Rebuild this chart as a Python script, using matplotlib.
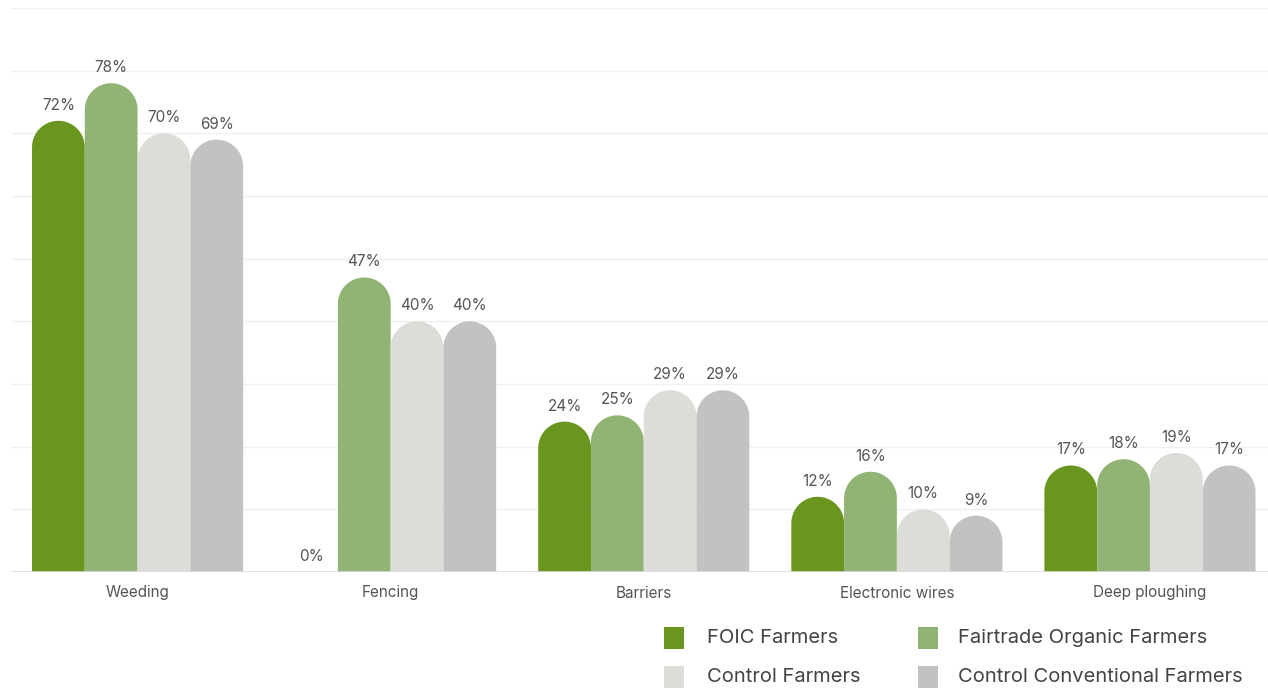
import numpy as np
import matplotlib
matplotlib.use("Agg")
import matplotlib.pyplot as plt
from matplotlib.patches import Polygon, Rectangle

plt.rcParams['font.family'] = ['Inter', 'DejaVu Sans']

categories = ["Weeding", "Fencing", "Barriers", "Electronic wires", "Deep ploughing"]
series_names = ["FOIC Farmers", "Fairtrade Organic Farmers",
                "Control Farmers", "Control Conventional Farmers"]
foic = [72, 0, 24, 12, 17]
fairtrade = [78, 47, 25, 16, 18]
control = [70, 40, 29, 10, 19]
conventional = [69, 40, 29, 9, 17]
series_values = [foic, fairtrade, control, conventional]
colors = ["#6a961f", "#91b373", "#dcddd8", "#c2c2c2"]
text_color = "#555555"

W, H = 1268, 693
fig = plt.figure(figsize=(W / 100, H / 100), dpi=100)
ax_left, ax_right = 11, 1276.5
ax_top, ax_bottom = 8, 572
ax = fig.add_axes([ax_left / W, (H - ax_bottom) / H,
                   (ax_right - ax_left) / W, (ax_bottom - ax_top) / H])
ax.set_xlim(-0.5, len(categories) - 0.5)
ax.set_ylim(0, 90)
for s in ax.spines.values():
    s.set_visible(False)
ax.set_xticks([])
ax.set_yticks([])

# horizontal grid
for g in range(10, 91, 10):
    ax.axhline(g, color="#f0f0f0", lw=1, zorder=0)
ax.axhline(0, color="#dcdcdc", lw=1.2, zorder=3)

bar_w = 0.2085
n = len(series_values)
# data units per pixel, used to make the rounded tops circular
px_x = (ax_right - ax_left) / len(categories)
px_y = (ax_bottom - ax_top) / 90.0
r_px = bar_w * px_x / 2
ry = r_px / px_y
theta = np.linspace(0, np.pi, 60)

for si, vals in enumerate(series_values):
    for ci, v in enumerate(vals):
        xc = ci + (si - (n - 1) / 2) * bar_w
        x0, x1 = xc - bar_w / 2, xc + bar_w / 2
        if v > 0:
            base = max(v - ry, 0)
            arc = np.column_stack([xc + (bar_w / 2) * np.cos(theta),
                                   base + ry * np.sin(theta)])
            verts = np.vstack([[x0, 0], [x1, 0], arc, [x0, 0]])
            ax.add_patch(Polygon(verts, closed=True, facecolor=colors[si],
                                 edgecolor="none", zorder=2))
        ax.text(xc, v + 15.5 / px_y, f"{v}%", ha="center", va="center",
                fontsize=11, color=text_color)

for ci, c in enumerate(categories):
    ax.text(ci, -21 / px_y, c, ha="center", va="center",
            fontsize=11, color=text_color)

# legend
legend_pos = [(664, 638, 707), (918, 638, 958), (664, 677, 707), (918, 677, 958)]
for (lx, ly, tx), name, col in zip(legend_pos, series_names, colors):
    fig.patches.append(Rectangle((lx / W, (H - ly - 11) / H), 20 / W, 22 / H,
                                 transform=fig.transFigure, facecolor=col,
                                 edgecolor="none"))
    fig.text(tx / W, (H - ly) / H, name, ha="left", va="center",
             fontsize=14.5, color="#444444")

fig.savefig("out.png", dpi=100)
